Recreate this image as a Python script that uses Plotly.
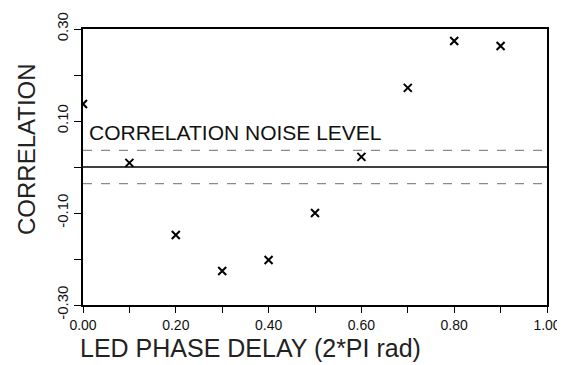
import plotly.graph_objects as go

phase_delay = [0.0, 0.1, 0.2, 0.3, 0.4, 0.5, 0.6, 0.7, 0.8, 0.9]
correlation = [0.137, 0.009, -0.148, -0.226, -0.202, -0.100, 0.022, 0.172, 0.274, 0.263]
noise_level = 0.036
x_ticks = [0.0, 0.2, 0.4, 0.6, 0.8, 1.0]
x_tick_labels = ["0.00", "0.20", "0.40", "0.60", "0.80", "1.00"]
y_ticks = [-0.3, -0.1, 0.1, 0.3]
y_tick_labels = ["-0.30", "-0.10", "0.10", "0.30"]
x_title = "LED PHASE DELAY (2*PI rad)"
y_title = "CORRELATION"
noise_label = "CORRELATION NOISE LEVEL"

font = "Liberation Sans, Arial, sans-serif"

fig = go.Figure()
# zero line
fig.add_trace(go.Scatter(x=[0, 1], y=[0, 0], mode="lines",
                         line=dict(color="black", width=1.5), hoverinfo="skip"))
# noise level lines
for lv in (noise_level, -noise_level):
    fig.add_trace(go.Scatter(x=[0, 1], y=[lv, lv], mode="lines",
                             line=dict(color="#8a8a8a", width=1.3, dash="dash"), hoverinfo="skip"))
fig.add_trace(go.Scatter(x=phase_delay, y=correlation, mode="markers",
                         marker=dict(symbol="x-thin", size=8, line=dict(color="black", width=2), color="black")))

fig.add_annotation(x=0.008, y=0.076, xref="x", yref="y", text=noise_label,
                   showarrow=False, xanchor="left", yanchor="middle",
                   font=dict(family=font, size=21, color="#111"))
fig.add_annotation(x=-0.011, y=-0.214, xref="paper", yref="paper", text=x_title,
                   showarrow=False, xanchor="left", yanchor="bottom",
                   font=dict(family=font, size=25, color="#222"))
fig.add_annotation(x=-0.123, y=0.565, xref="paper", yref="paper", text=y_title,
                   showarrow=False, xanchor="center", yanchor="middle", textangle=-90,
                   font=dict(family=font, size=24, color="#222"))

fig.update_layout(
    width=557, height=357,
    margin=dict(l=75, r=18, t=21, b=60),
    paper_bgcolor="white", plot_bgcolor="white",
    showlegend=False,
    font=dict(family=font, color="#111"),
    xaxis=dict(range=[0, 1], tickvals=x_ticks, ticktext=x_tick_labels, automargin=False,
               ticks="outside", ticklen=6, tickwidth=1.3, tickcolor="black",
               showline=True, linecolor="black", linewidth=1.5, mirror=True,
               showgrid=False, zeroline=False,
               minor=dict(dtick=0.1, tick0=0, ticks="outside", ticklen=6, tickwidth=1.3, tickcolor="black", showgrid=False),
               tickfont=dict(size=14, family=font)),
    yaxis=dict(range=[-0.3, 0.3], tickvals=y_ticks, ticktext=y_tick_labels, automargin=False,
               tickangle=-90,
               ticks="outside", ticklen=7, tickwidth=1.3, tickcolor="black",
               showline=True, linecolor="black", linewidth=1.5, mirror=True,
               showgrid=False, zeroline=False,
               minor=dict(dtick=0.1, tick0=0, ticks="outside", ticklen=7, tickwidth=1.3, tickcolor="black", showgrid=False),
               tickfont=dict(size=15, family=font)),
)

fig.write_html("out.html")
